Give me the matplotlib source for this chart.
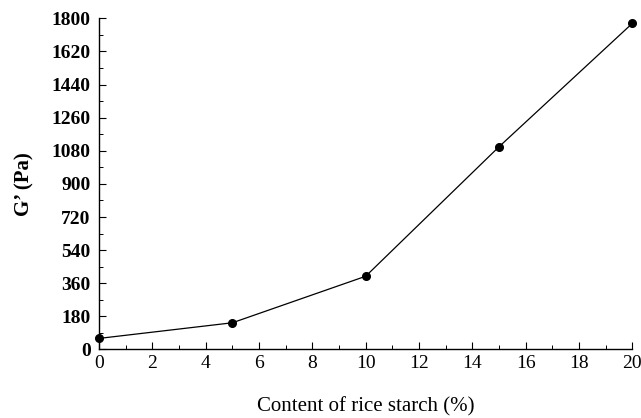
import matplotlib
matplotlib.use("Agg")
import matplotlib.pyplot as plt
from matplotlib.ticker import MultipleLocator

# G' of the gel versus rice starch content
starch = [0, 5, 10, 15, 20]
g_prime = [60, 145, 398, 1102, 1773]

x_ticks = list(range(0, 21, 2))
y_ticks = list(range(0, 1801, 180))

plt.rcParams['font.family'] = ['Liberation Serif', 'DejaVu Serif']

fig = plt.figure(figsize=(6.41, 4.18), dpi=100)
ax = fig.add_axes([0.1545, 0.164, 0.832, 0.792])

ax.plot(starch, g_prime, color='black', linewidth=0.9, clip_on=False, zorder=3,
        marker='o', markersize=5.5, markerfacecolor='black', markeredgecolor='black')

ax.set_xlim(0, 20)
ax.set_ylim(0, 1800)
ax.set_xticks(x_ticks)
ax.set_yticks(y_ticks)
ax.xaxis.set_minor_locator(MultipleLocator(1))
ax.yaxis.set_minor_locator(MultipleLocator(90))

ax.spines['top'].set_visible(False)
ax.spines['right'].set_visible(False)
ax.spines['left'].set_linewidth(1.0)
ax.spines['bottom'].set_linewidth(1.0)

ax.tick_params(which='major', direction='in', length=5, width=0.8, labelsize=14)
ax.tick_params(axis='x', which='major', pad=4)
ax.tick_params(axis='y', which='major', pad=6)
ax.tick_params(which='minor', direction='in', length=3, width=0.7)
for lab in ax.get_yticklabels():
    lab.set_fontweight('bold')

ax.set_xlabel('Content of rice starch (%)', fontsize=15, labelpad=18)
ax.set_ylabel('G’ (Pa)', fontsize=15, fontweight='bold', labelpad=12)

fig.savefig('out.png', dpi=100)
